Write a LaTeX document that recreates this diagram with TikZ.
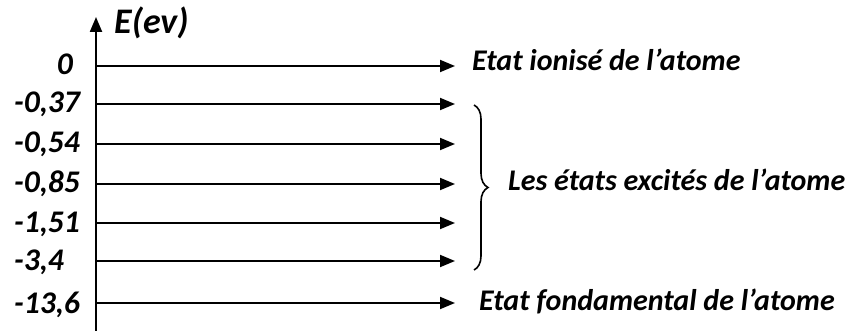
\documentclass[tikz,border=0pt]{standalone}
\usepackage{fontspec}
\setmainfont{Carlito}
\usetikzlibrary{arrows.meta,decorations.pathreplacing}
\begin{document}
\begin{tikzpicture}[x=1pt,y=-1pt,
  lvl/.style={line width=1.9pt,-{Triangle[length=15pt,width=12pt]}},
  val/.style={font=\fontsize{31.5}{36}\selectfont\bfseries\itshape,inner sep=0pt,anchor=base west},
  lbl/.style={font=\fontsize{30}{34}\selectfont\bfseries\itshape,inner sep=0pt,anchor=base west}]
\useasboundingbox (0,0) rectangle (848,331);
% energy axis
\coordinate (ax0) at (96,331);
\coordinate (ax1) at (96,17);
\draw[line width=2.2pt,-{Triangle[length=15pt,width=12pt]}] (ax0) -- (ax1);
\node[font=\fontsize{36}{40}\selectfont\bfseries\itshape,inner sep=0pt,anchor=base west] (unit) at (114,34) {E(ev)};
% energy levels
\foreach \n/\y in {a/66, b/104, c/144, d/184, e/223, f/261, g/303}{
  \coordinate (s\n) at (97,\y);
  \coordinate (t\n) at (455,\y);
  \draw[lvl] (s\n) -- (t\n);
}
\node[val,anchor=base east] (va) at (73,75) {0};
\node[val] (vb) at (14,113) {-0,37};
\node[val] (vc) at (14,153) {-0,54};
\node[val] (vd) at (14,193) {-0,85};
\node[val] (ve) at (14,232) {-1,51};
\node[val] (vf) at (14,270) {-3,4};
\node[val] (vg) at (14,313) {-13,6};
% descriptions
\node[lbl] (ion) at (472,71) {Etat ionisé de l’atome};
\coordinate (br1) at (474,105);
\coordinate (br2) at (474,270);
\draw[line width=1.6pt,decorate,decoration={brace,amplitude=14pt}] (br1) -- (br2);
\node[lbl] (exc) at (508,191) {Les états excités de l’atome};
\node[lbl] (fond) at (479,310) {Etat fondamental de l’atome};
\end{tikzpicture}
\end{document}
